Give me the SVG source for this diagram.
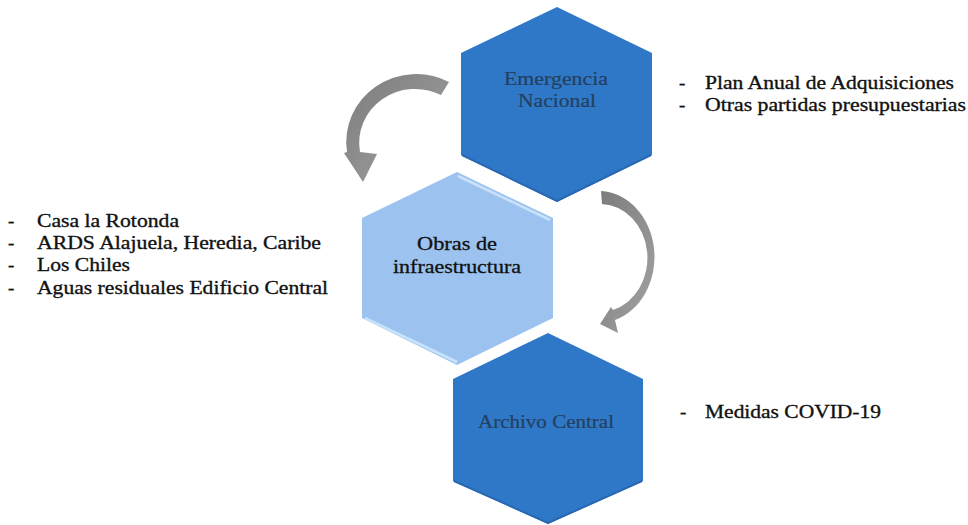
<svg xmlns="http://www.w3.org/2000/svg" width="968" height="525" viewBox="0 0 968 525">
<defs>
<style>
.dark{fill:#2f78c8;}
.light{fill:#9cc3ef;}
.hl{fill:none;stroke:#c9e2fb;stroke-width:2.5;}
.sh{fill:none;stroke:#2867b2;stroke-width:2;}
.hx{fill:#24405f;text-anchor:middle;stroke:#24405f;stroke-width:0.2;}
.hb{fill:#111;text-anchor:middle;stroke:#111;stroke-width:0.3;}
.li{fill:#111;stroke:#111;stroke-width:0.35;}
.arrow{fill:url(#ag);}
</style>
<linearGradient id="ag" x1="0" y1="0" x2="1" y2="1">
<stop offset="0" stop-color="#7c7c7c"/>
<stop offset="1" stop-color="#a3a3a3"/>
</linearGradient>
</defs>
<rect width="968" height="525" fill="#fff"/>

<g id="connectors">
<path class="arrow" d="M449,82 A70,68 0 0,0 347,152 L344,153 L363,182 L377,154 L360,152 A56,54 0 0,1 441,95 Z"/>
<path class="arrow" d="M601,191 A56,66 0 0,1 615,320 L618,333 L600,324 L611,307 L613,310 A47,54 0 0,0 602,204 Z"/>
</g>

<g font-family="'Liberation Serif', 'DejaVu Serif', serif" font-size="19">
<g id="node-emergencia">
<polygon class="dark" points="557,7 652,53 652,155 557,202 461,155 461,53"/>
<polyline class="sh" points="462,155 557,201 651,155"/>
<text class="hx" x="556" y="85" textLength="104" lengthAdjust="spacingAndGlyphs">Emergencia</text>
<text class="hx" x="557" y="107" textLength="78" lengthAdjust="spacingAndGlyphs">Nacional</text>
</g>

<g id="node-obras">
<polygon class="light" points="457,172 553,218 553,318 457,365 362,318 362,218"/>
<polyline class="hl" points="458,176 550,220"/>
<polyline class="hl" points="365,318 457,362"/>
<text class="hb" x="457" y="250" textLength="80" lengthAdjust="spacingAndGlyphs">Obras de</text>
<text class="hb" x="457" y="273" textLength="128" lengthAdjust="spacingAndGlyphs">infraestructura</text>
</g>

<g id="node-archivo">
<polygon class="dark" points="548,333 643,379 643,481 548,524 453,481 453,379"/>
<polyline class="sh" points="454,481 548,523 642,481"/>
<text class="hx" x="546" y="428" textLength="136" lengthAdjust="spacingAndGlyphs">Archivo Central</text>
</g>

<g id="list-emergencia">
<text class="li" x="679" y="89">-</text>
<text class="li" x="705" y="89" textLength="249" lengthAdjust="spacingAndGlyphs">Plan Anual de Adquisiciones</text>
<text class="li" x="679" y="111">-</text>
<text class="li" x="705" y="111" textLength="261" lengthAdjust="spacingAndGlyphs">Otras partidas presupuestarias</text>
</g>

<g id="list-obras">
<text class="li" x="8" y="227">-</text>
<text class="li" x="37" y="227" textLength="142" lengthAdjust="spacingAndGlyphs">Casa la Rotonda</text>
<text class="li" x="8" y="249">-</text>
<text class="li" x="37" y="249" textLength="284" lengthAdjust="spacingAndGlyphs">ARDS Alajuela, Heredia, Caribe</text>
<text class="li" x="8" y="271">-</text>
<text class="li" x="37" y="271" textLength="93" lengthAdjust="spacingAndGlyphs">Los Chiles</text>
<text class="li" x="8" y="294">-</text>
<text class="li" x="37" y="294" textLength="291" lengthAdjust="spacingAndGlyphs">Aguas residuales Edificio Central</text>
</g>

<g id="list-archivo">
<text class="li" x="680" y="418">-</text>
<text class="li" x="705" y="418" textLength="176" lengthAdjust="spacingAndGlyphs">Medidas COVID-19</text>
</g>
</g>
</svg>
